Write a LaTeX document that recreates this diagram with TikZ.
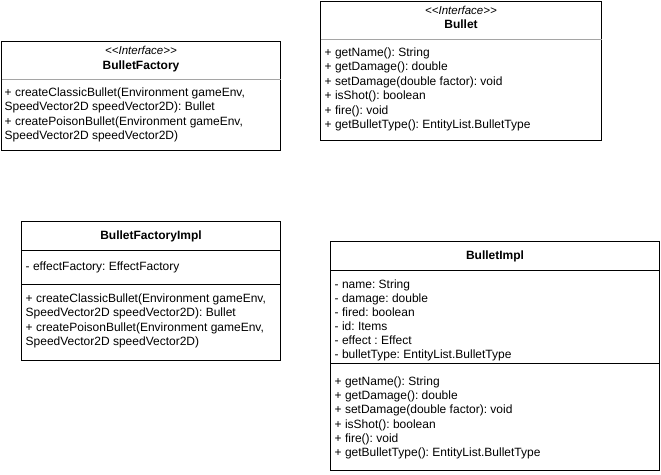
\documentclass[tikz,border=0pt]{standalone}
\usepackage{fontspec}
\setmainfont{Liberation Sans}
\frenchspacing
\definecolor{sepgray}{RGB}{165,165,165}
\begin{document}
\begin{tikzpicture}[x=1pt,y=-1pt,
  classbox/.style={draw=black, line width=1pt, inner sep=0pt, outer sep=0pt, anchor=north west, fill=white},
  isep/.style={draw=sepgray, line width=1pt},
  bsep/.style={draw=black, line width=1pt},
  txt/.style={anchor=base west, inner sep=0pt, font=\fontsize{12}{14.4}\selectfont},
  ttl/.style={anchor=base, inner sep=0pt, font=\fontsize{12}{14.4}\selectfont\bfseries},
  stereo/.style={anchor=base, inner sep=0pt, font=\fontsize{11.5}{14.4}\selectfont\itshape}]
\useasboundingbox (0,0) rectangle (661,474);

% BulletFactory
\node[classbox, minimum width=279pt, minimum height=109pt] (bf) at (1.5,41.5) {};
\node[stereo] (bf-st) at (141,54) {{<}{<}Interface{>}{>}};
\node[ttl] (bf-t) at (141,69) {BulletFactory};
\coordinate (bfs) at (0,79.5);
\draw[isep] (bf.west |- bfs) -- (bf.east |- bfs);
\foreach [count=\i] \t in {{+ createClassicBullet(Environment gameEnv,},{SpeedVector2D speedVector2D): Bullet},{+ createPoisonBullet(Environment gameEnv,},{SpeedVector2D speedVector2D)}}
  \node[txt] (bf-m\i) at (4.5,{96.5+14.4*(\i-1)}) {\t};

% Bullet
\node[classbox, minimum width=281pt, minimum height=139pt] (bu) at (320.5,1.5) {};
\node[stereo] (bu-st) at (461,14) {{<}{<}Interface{>}{>}};
\node[ttl] (bu-t) at (461,28.5) {Bullet};
\coordinate (bus) at (0,39.5);
\draw[isep] (bu.west |- bus) -- (bu.east |- bus);
\foreach [count=\i] \t in {{+ getName(): String},{+ getDamage(): double},{+ setDamage(double factor): void},{+ isShot(): boolean},{+ fire(): void},{+ getBulletType(): EntityList.BulletType}}
  \node[txt] (bu-m\i) at (324.5,{56.5+14.4*(\i-1)}) {\t};

% BulletFactoryImpl
\node[classbox, minimum width=259pt, minimum height=139pt] (bfi) at (21.5,221.5) {};
\node[ttl] (bfi-t) at (151,239.5) {BulletFactoryImpl};
\coordinate (bfis1) at (0,250.5);
\coordinate (bfis2) at (0,284.5);
\draw[bsep] (bfi.west |- bfis1) -- (bfi.east |- bfis1);
\draw[bsep] (bfi.west |- bfis2) -- (bfi.east |- bfis2);
\node[txt] (bfi-f1) at (25.5,270.5) {- effectFactory: EffectFactory};
\foreach [count=\i] \t in {{+ createClassicBullet(Environment gameEnv,},{SpeedVector2D speedVector2D): Bullet},{+ createPoisonBullet(Environment gameEnv,},{SpeedVector2D speedVector2D)}}
  \node[txt] (bfi-m\i) at (25.5,{302.5+14.4*(\i-1)}) {\t};

% BulletImpl
\node[classbox, minimum width=329pt, minimum height=229pt] (bi) at (330.5,241.5) {};
\node[ttl] (bi-t) at (495,259.5) {BulletImpl};
\coordinate (bis1) at (0,270.5);
\coordinate (bis2) at (0,363.5);
\draw[bsep] (bi.west |- bis1) -- (bi.east |- bis1);
\draw[bsep] (bi.west |- bis2) -- (bi.east |- bis2);
\foreach [count=\i] \t in {{- name: String},{- damage: double},{- fired: boolean},{- id: Items},{- effect : Effect},{- bulletType: EntityList.BulletType}}
  \node[txt] (bi-f\i) at (334.5,{288.5+14*(\i-1)}) {\t};
\foreach [count=\i] \t in {{+ getName(): String},{+ getDamage(): double},{+ setDamage(double factor): void},{+ isShot(): boolean},{+ fire(): void},{+ getBulletType(): EntityList.BulletType}}
  \node[txt] (bi-m\i) at (334.5,{385.5+14.2*(\i-1)}) {\t};
\end{tikzpicture}
\end{document}
